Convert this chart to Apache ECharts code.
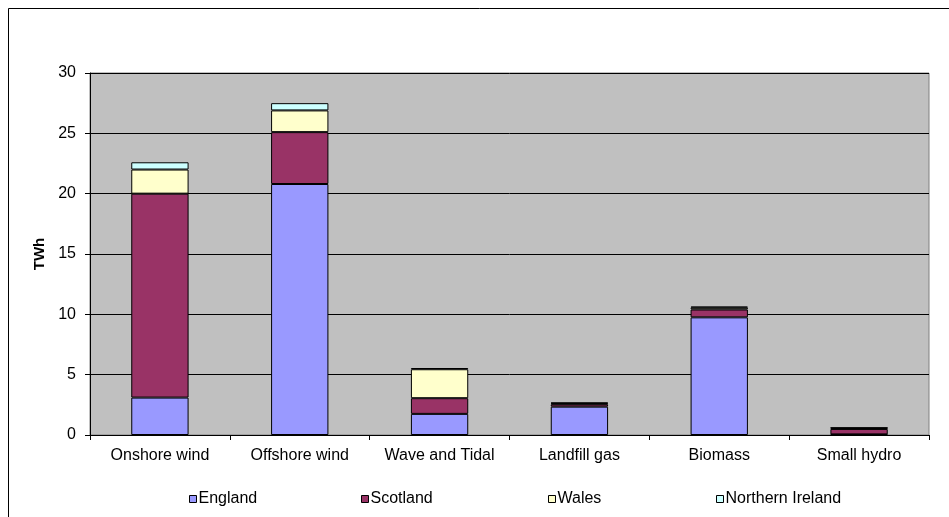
<!DOCTYPE html>
<html>
<head>
<meta charset="utf-8">
<script src="https://cdn.jsdelivr.net/npm/echarts@6/dist/echarts.min.js"></script>
<style>
  html, body { margin: 0; padding: 0; background: #ffffff; }
  #chart { width: 949px; height: 517px; }
</style>
</head>
<body>
<div id="chart"></div>
<script>
// Renewable generation by technology and nation (TWh)
const categories = ['Onshore wind', 'Offshore wind', 'Wave and Tidal', 'Landfill gas', 'Biomass', 'Small hydro'];
const england         = [3.1, 20.8, 1.75, 2.35, 9.75, 0.05];
const scotland        = [16.9, 4.3, 1.3, 0.2, 0.65, 0.45];
const wales           = [2.0, 1.8, 2.4, 0.08, 0.15, 0.08];
const northernIreland = [0.6, 0.6, 0.1, 0.05, 0.1, 0.03];
const yTicks = [0, 5, 10, 15, 20, 25, 30];

const FONT = '"Liberation Sans", Arial, sans-serif';

const seriesDefs = [
  { name: 'England', data: england, color: '#9999FF' },
  { name: 'Scotland', data: scotland, color: '#993366' },
  { name: 'Wales', data: wales, color: '#FFFFCC' },
  { name: 'Northern Ireland', data: northernIreland, color: '#CCFFFF' }
];

// left edge of each legend entry
const legendLeft = [189, 361, 548, 716];

const chart = echarts.init(document.getElementById('chart'), null, { renderer: 'canvas' });

chart.setOption({
  animation: false,
  backgroundColor: '#ffffff',
  textStyle: { fontFamily: FONT, color: '#000' },
  graphic: [{
    type: 'rect',
    shape: { x: 8.5, y: 8.5, width: 1000, height: 600 },
    style: { fill: 'none', stroke: '#000', lineWidth: 1 },
    silent: true,
    z: -10
  }],
  legend: seriesDefs.map((s, i) => ({
    data: [s.name],
    left: legendLeft[i],
    top: 491,
    itemWidth: 7,
    itemHeight: 7,
    itemGap: 0,
    padding: 0,
    icon: 'rect',
    textStyle: { fontFamily: FONT, fontSize: 16, color: '#000', padding: [0, 0, 0, -3] },
    itemStyle: { borderColor: '#000', borderWidth: 1 }
  })),
  grid: {
    left: 90, right: 20, top: 73, bottom: 82,
    show: true,
    backgroundColor: '#C0C0C0',
    borderColor: '#808080',
    borderWidth: 1
  },
  xAxis: {
    type: 'category',
    data: categories,
    axisLine: { lineStyle: { color: '#000', width: 1 } },
    axisTick: { show: true, length: 5, lineStyle: { color: '#000' } },
    axisLabel: { interval: 0, hideOverlap: false, fontFamily: FONT, fontSize: 16, color: '#000', margin: 13 }
  },
  yAxis: {
    type: 'value',
    min: yTicks[0],
    max: yTicks[yTicks.length - 1],
    interval: 5,
    name: 'TWh',
    nameLocation: 'middle',
    nameGap: 40,
    nameTextStyle: { fontFamily: FONT, fontSize: 15, fontWeight: 'bold', color: '#000' },
    axisLine: { show: true, lineStyle: { color: '#000', width: 1 } },
    axisTick: { show: true, length: 5, lineStyle: { color: '#000' } },
    axisLabel: { fontFamily: FONT, fontSize: 16, color: '#000', margin: 14 },
    splitLine: { show: true, lineStyle: { color: '#000', width: 1 } }
  },
  series: seriesDefs.map(s => ({
    name: s.name,
    type: 'bar',
    stack: 'total',
    barWidth: '41%',
    data: s.data,
    itemStyle: { color: s.color, borderColor: '#000', borderWidth: 1 }
  }))
});
</script>
</body>
</html>
